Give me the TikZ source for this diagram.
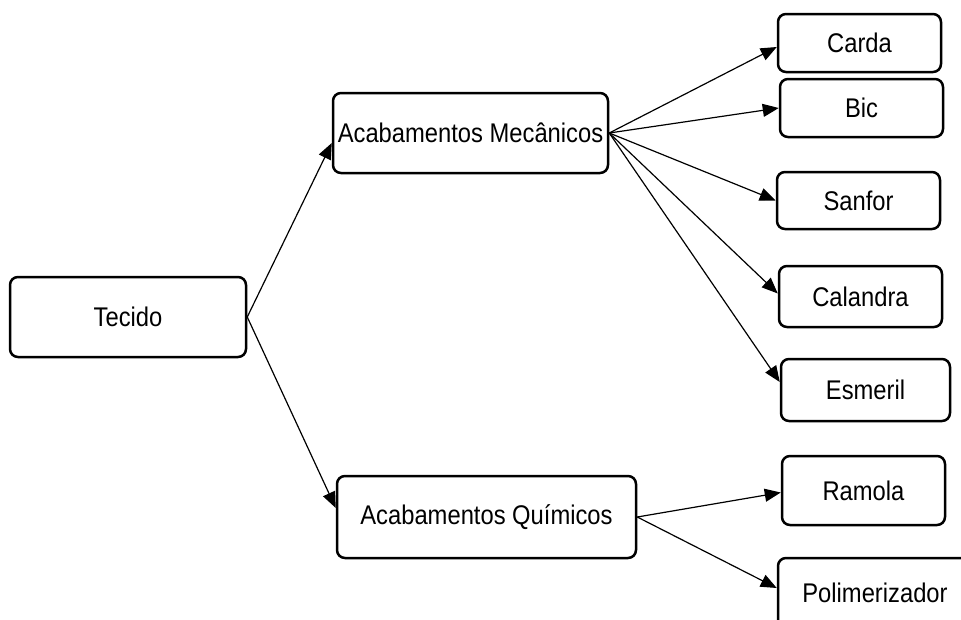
\documentclass[tikz,border=0pt]{standalone}
\usepackage{fontspec}
\setmainfont[FakeStretch=0.88]{Liberation Sans}
\usetikzlibrary{arrows.meta}

\tikzset{
  caixa/.style={draw, line width=2.5pt, rounded corners=8pt, inner sep=0pt, font=\fontsize{27}{32}\selectfont},
  seta/.style={line width=1.2pt, -{Triangle[length=16pt, width=13pt]}}
}

\begin{document}
\begin{tikzpicture}[x=1pt, y=-1pt]
  \useasboundingbox (0,0) rectangle (961,619);

  % Tecido e os dois tipos de acabamento
  \node[caixa, minimum width=236pt, minimum height=80pt] (tecido) at (128,317) {Tecido};
  \node[caixa, minimum width=275pt, minimum height=80pt] (mec) at (470.5,133) {Acabamentos Mecânicos};
  \node[caixa, minimum width=299pt, minimum height=82pt] (quim) at (486.5,517) {Acabamentos Químicos};

  % Acabamentos mecânicos
  \node[caixa, minimum width=163pt, minimum height=58pt] (carda) at (859.5,43) {Carda};
  \node[caixa, minimum width=163pt, minimum height=58pt] (bic) at (861.5,108) {Bic};
  \node[caixa, minimum width=163pt, minimum height=57pt] (sanfor) at (858.5,200.5) {Sanfor};
  \node[caixa, minimum width=163pt, minimum height=61pt] (calandra) at (860.5,296.5) {Calandra};
  \node[caixa, minimum width=169pt, minimum height=62pt] (esmeril) at (865.5,390) {Esmeril};

  % Acabamentos químicos
  \node[caixa, minimum width=163pt, minimum height=69pt] (ramola) at (863.5,490.5) {Ramola};
  \node[caixa, minimum width=194pt, minimum height=70pt] (polim) at (875,593) {Polimerizador};

  \draw[seta] (tecido.east) -- ([yshift=-10pt]mec.west);
  \draw[seta] (tecido.east) -- ([yshift=9pt]quim.west);

  \draw[seta] (mec.east) -- ([yshift=-4pt]carda.west);
  \draw[seta] (mec.east) -- (bic.west);
  \draw[seta] (mec.east) -- (sanfor.west);
  \draw[seta] (mec.east) -- ([yshift=3pt]calandra.west);
  \draw[seta] (mec.east) -- ([yshift=8pt]esmeril.west);

  \draw[seta] (quim.east) -- ([yshift=-2pt]ramola.west);
  \draw[seta] (quim.east) -- ([yshift=5pt]polim.west);
\end{tikzpicture}
\end{document}
